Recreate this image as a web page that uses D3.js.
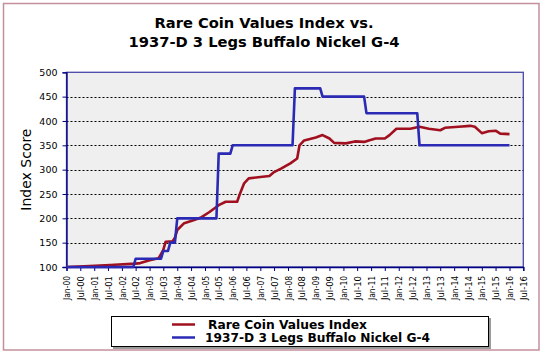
<!DOCTYPE html>
<html><head><meta charset="utf-8">
<script src="https://cdn.jsdelivr.net/npm/d3@7"></script>
<style>body{margin:0;background:#fff}svg{display:block}</style>
</head><body><svg id="c" width="542" height="355"></svg>
<script>
const titleLines = ["Rare Coin Values Index vs.", "1937-D 3 Legs Buffalo Nickel G-4"];
const yAxisTitle = "Index Score";
const seriesNames = ["Rare Coin Values Index", "1937-D 3 Legs Buffalo Nickel G-4"];

const redDates = ["2000-01","2000-11","2001-08","2002-07","2002-09","2003-01","2003-05","2003-07","2003-08",
  "2003-11","2003-12","2004-01","2004-04","2004-08","2004-11","2005-03","2005-07","2005-10","2006-03",
  "2006-04","2006-06","2006-08","2007-01","2007-05","2007-07","2007-10","2008-02","2008-05","2008-06",
  "2008-08","2009-01","2009-04","2009-07","2009-09","2010-02","2010-06","2010-10","2010-12","2011-03",
  "2011-07","2011-09","2011-12","2012-06","2012-10","2013-02","2013-07","2013-09","2014-03","2014-08",
  "2014-10","2015-01","2015-04","2015-07","2015-09","2016-01"];
const redValues = [100,102,104,107,108,114,118,135,152,
  153,160,176,190,196,201,213,227,234,234,
  248,272,282,285,287,295,302,313,323,350,
  360,366,371,364,355,354,358,357,360,364,
  364,371,384,384,388,384,381,386,388,390,
  388,375,379,380,374,373];

const blueDates = ["2000-01","2002-06","2002-07","2003-06","2003-07","2003-09","2003-10","2003-12","2004-01",
  "2005-06","2005-07","2005-12","2006-01","2008-03","2008-04","2009-03","2009-04","2010-10","2010-11",
  "2012-09","2012-10","2016-01"];
const blueValues = [100,100,117,117,133,133,150,150,200,
  200,333,333,350,350,467,467,450,450,416,
  416,350,350];

const yTicks = [100,150,200,250,300,350,400,450,500];
const xTickLabels = ["Jan-00","Jul-00","Jan-01","Jul-01","Jan-02","Jul-02","Jan-03","Jul-03","Jan-04","Jul-04",
  "Jan-05","Jul-05","Jan-06","Jul-06","Jan-07","Jul-07","Jan-08","Jul-08","Jan-09","Jul-09","Jan-10","Jul-10",
  "Jan-11","Jul-11","Jan-12","Jul-12","Jan-13","Jul-13","Jan-14","Jul-14","Jan-15","Jul-15","Jan-16","Jul-16"];

const colors = ["#a0101e", "#2a2ab4"];
const parseM = d3.timeParse("%Y-%m");
const parseTick = d3.timeParse("%b-%y");
const font = "'DejaVu Sans', Verdana, sans-serif";

const svg = d3.select("#c");
// chart area
svg.append("rect").attr("x", 3.5).attr("y", 3.5).attr("width", 535.5).attr("height", 346.5)
  .attr("fill", "#fff").attr("stroke", "#c3909b").attr("stroke-width", 1.5);

const L = 66.5, R = 523.3, T = 72.3, B = 267;
const tickDates = xTickLabels.map(parseTick);
const x = d3.scaleTime().domain([tickDates[0], tickDates[tickDates.length - 1]]).range([L, R]);
const y = d3.scaleLinear().domain([100, 500]).range([B, T]);

svg.append("rect").attr("x", L).attr("y", T).attr("width", R - L).attr("height", B - T)
  .attr("fill", "#efefef").attr("stroke", "#4848a8").attr("stroke-width", 1.3);

// gridlines
svg.append("g").selectAll("line").data(yTicks.filter(v => v > 100 && v < 500)).join("line")
  .attr("x1", L).attr("x2", R).attr("y1", d => Math.round(y(d)) + 0.5).attr("y2", d => Math.round(y(d)) + 0.5)
  .attr("stroke", "#000").attr("stroke-dasharray", "2,2").attr("stroke-width", 1);

// y axis
const yAxis = svg.append("g").attr("transform", `translate(${L},0)`)
  .call(d3.axisLeft(y).tickValues(yTicks).tickSize(4).tickPadding(5));
yAxis.select(".domain").attr("stroke", "#000080").attr("stroke-width", 1.3);
yAxis.selectAll(".tick line").attr("stroke", "#000080");
yAxis.selectAll(".tick text").attr("font-family", font).attr("font-size", "9.5px").attr("fill", "#000");

// x axis
const xAxis = svg.append("g").attr("transform", `translate(0,${B})`)
  .call(d3.axisBottom(x).tickValues(tickDates).tickFormat((d, i) => xTickLabels[i]).tickSize(4).tickPadding(5));
xAxis.select(".domain").attr("stroke", "#000080").attr("stroke-width", 1.3);
xAxis.selectAll(".tick line").attr("stroke", "#000080");
xAxis.selectAll(".tick text").attr("font-family", font).attr("font-size", "9px").attr("fill", "#000")
  .attr("transform", "rotate(-90)").attr("text-anchor", "end").attr("x", -9).attr("y", 0).attr("dy", "0.35em")
  .attr("textLength", 24).attr("lengthAdjust", "spacingAndGlyphs");

// lines
const line = d3.line().x(d => x(d[0])).y(d => y(d[1]));
const redData = redDates.map((d, i) => [parseM(d), redValues[i]]);
const blueData = blueDates.map((d, i) => [parseM(d), blueValues[i]]);
svg.append("path").datum(redData).attr("d", line).attr("fill", "none")
  .attr("stroke", colors[0]).attr("stroke-width", 2.6).attr("stroke-linejoin", "round");
svg.append("path").datum(blueData).attr("d", line).attr("fill", "none")
  .attr("stroke", colors[1]).attr("stroke-width", 2.6).attr("stroke-linejoin", "round");

// title
svg.append("g").selectAll("text").data(titleLines).join("text")
  .attr("x", 264).attr("y", (d, i) => 28 + i * 19).attr("text-anchor", "middle")
  .attr("font-family", font).attr("font-weight", "bold").attr("font-size", "14.5px")
  .attr("textLength", (d, i) => [219, 271][i]).attr("lengthAdjust", "spacingAndGlyphs").text(d => d);

// y title
svg.append("text").attr("transform", `translate(31,${(T + B) / 2}) rotate(-90)`).attr("text-anchor", "middle")
  .attr("font-family", font).attr("font-size", "14px").text(yAxisTitle);

// legend
const lg = svg.append("g");
lg.append("rect").attr("x", 113).attr("y", 318).attr("width", 378).attr("height", 31).attr("fill", "#9a9a9a");
lg.append("rect").attr("x", 111.5).attr("y", 316.5).attr("width", 377).attr("height", 30)
  .attr("fill", "#fff").attr("stroke", "#000").attr("stroke-width", 1);
seriesNames.forEach((n, i) => {
  const yy = 324.5 + i * 13;
  lg.append("line").attr("x1", 172).attr("x2", 195).attr("y1", yy).attr("y2", yy)
    .attr("stroke", colors[i]).attr("stroke-width", 2.5);
  lg.append("text").attr("x", [208, 205][i]).attr("y", yy + 4.5).attr("font-family", font)
    .attr("font-weight", "bold").attr("font-size", "12px")
    .attr("textLength", [159, 225][i]).attr("lengthAdjust", "spacingAndGlyphs").text(n);
});
</script></body></html>
